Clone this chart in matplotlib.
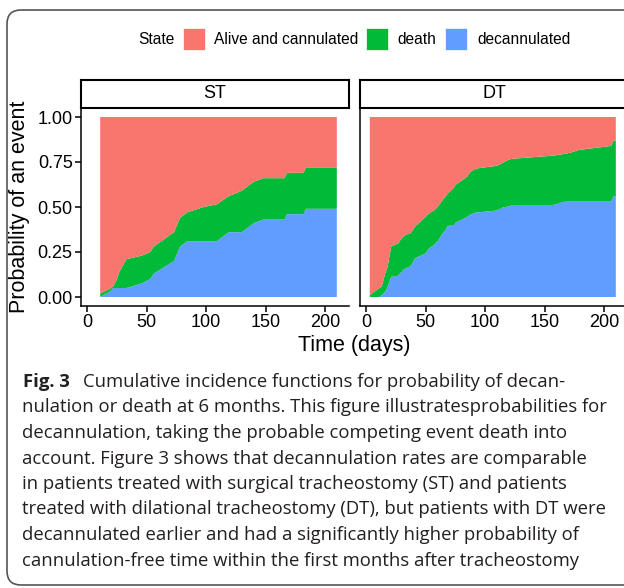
import matplotlib.pyplot as plt
from matplotlib.patches import Rectangle, FancyBboxPatch
from matplotlib.transforms import IdentityTransform
import numpy as np

# cumulative incidence, ST panel
st_tempo = [10.9, 19, 22, 25, 27, 33, 46, 53, 56, 73, 78, 84, 98, 109, 119, 130, 140, 148, 166, 168, 182, 184, 210]
st_decan = [0.0, 0.03, 0.05, 0.05, 0.05, 0.05, 0.076, 0.10, 0.13, 0.20, 0.28, 0.31, 0.31, 0.31, 0.36, 0.36, 0.41, 0.43, 0.43, 0.46, 0.46, 0.49, 0.49]
st_obito = [0.02, 0.015, 0.01, 0.05, 0.09, 0.16, 0.154, 0.15, 0.15, 0.16, 0.16, 0.16, 0.19, 0.205, 0.20, 0.23, 0.23, 0.23, 0.23, 0.23, 0.23, 0.23, 0.23]

# cumulative incidence, DT panel
dt_tempo = [3, 7, 11, 13, 16, 18, 21, 24, 27, 28, 30, 31, 33, 35, 37, 38, 41, 50, 52, 55, 57, 60, 65, 67, 68, 71,
            74, 75, 81, 85, 87, 88, 92, 94, 109, 112, 115, 119, 122, 123, 157, 167, 172, 179, 206, 208, 210]
dt_decan = [0, 0, 0, 0.01, 0.03, 0.057, 0.113, 0.113, 0.12, 0.128, 0.14, 0.15, 0.158, 0.165, 0.17, 0.178, 0.215,
            0.243, 0.265, 0.28, 0.289, 0.31, 0.36, 0.375, 0.391, 0.40, 0.40, 0.413, 0.431, 0.445, 0.456, 0.458,
            0.469, 0.47, 0.48, 0.487, 0.498, 0.502, 0.508, 0.511, 0.511, 0.53, 0.53, 0.53, 0.53, 0.561, 0.561]
dt_obito = [0.011, 0.03, 0.05, 0.047, 0.101, 0.112, 0.167, 0.177, 0.178, 0.182, 0.186, 0.185, 0.186, 0.185, 0.184,
            0.182, 0.176, 0.203, 0.195, 0.194, 0.191, 0.19, 0.185, 0.186, 0.179, 0.19, 0.21, 0.209, 0.219, 0.224,
            0.234, 0.238, 0.243, 0.245, 0.248, 0.248, 0.248, 0.258, 0.259, 0.257, 0.274, 0.265, 0.272, 0.287,
            0.309, 0.308, 0.308]

estados = ["Alive and cannulated", "death", "decannulated"]
cores = ["#F8766D", "#00BA38", "#619CFF"]
yticks = [0, 0.25, 0.5, 0.75, 1.0]
xticks = [0, 50, 100, 150, 200]

legenda = ["Fig. 3", "Cumulative incidence functions for probability of decan-",
           "nulation or death at 6 months. This figure illustratesprobabilities for",
           "decannulation, taking the probable competing event death into",
           "account. Figure 3 shows that decannulation rates are comparable",
           "in patients treated with surgical tracheostomy (ST) and patients",
           "treated with dilational tracheostomy (DT), but patients with DT were",
           "decannulated earlier and had a significantly higher probability of",
           "cannulation-free time within the first months after tracheostomy"]

W, H = 624, 588
plt.rcParams["font.family"] = ["Liberation Sans", "DejaVu Sans"]
fig = plt.figure(figsize=(W / 100, H / 100), dpi=100)


def caixa(x0, y0, x1, y1):
    # pixel box (top-left origin) -> figure fraction
    return [x0 / W, 1 - y1 / H, (x1 - x0) / W, (y1 - y0) / H]


# moldura arredondada
fig.patches.append(FancyBboxPatch((7, 3), 680, 575, boxstyle="round,pad=0,rounding_size=14",
                                  transform=IdentityTransform(), fill=False, edgecolor="#555555",
                                  linewidth=1.2))

paineis = [("ST", st_tempo, st_decan, st_obito, 81),
           ("DT", dt_tempo, dt_decan, dt_obito, 360)]
for nome, t, dec, obi, x0 in paineis:
    ax = fig.add_axes(caixa(x0, 108, x0 + 268, 306))
    dec = np.array(dec)
    obi = np.array(obi)
    vivo = 1 - dec - obi
    ax.stackplot(t, dec, obi, vivo, colors=[cores[2], cores[1], cores[0]], linewidth=0)
    ax.set_xlim(-5.25, 220.25)
    ax.set_ylim(-0.05, 1.05)
    ax.spines[["top", "right"]].set_visible(False)
    for s in ["left", "bottom"]:
        ax.spines[s].set_linewidth(1.1)
    ax.set_xticks(xticks)
    ax.set_xticklabels([str(v) for v in xticks], fontsize=13)
    ax.tick_params(length=4, width=1.1, pad=2)
    if nome == "ST":
        ax.set_yticks(yticks)
        ax.set_yticklabels([f"{v:.2f}" for v in yticks], fontsize=13)
    else:
        ax.set_yticks([])

    tira = fig.add_axes(caixa(x0, 80, x0 + 268, 108))
    tira.set_xticks([])
    tira.set_yticks([])
    for s in tira.spines.values():
        s.set_linewidth(1.5)
    tira.text(0.5, 0.5, nome, ha="center", va="center", fontsize=13, transform=tira.transAxes)

fig.text(20 / W, 1 - 207 / H, "Probability of an event", rotation=90, ha="center", va="center", fontsize=15.5)
fig.text(354 / W, 1 - 345 / H, "Time (days)", ha="center", va="center", fontsize=15.5)

# legenda do topo
fig.text(138 / W, 1 - 39 / H, "State", ha="left", va="center", fontsize=11.2)
for cor, rotulo, xp, xt in zip(cores, estados, [183, 366, 445], [214, 397, 477]):
    fig.patches.append(Rectangle((xp / W, 1 - 50 / H), 22 / W, 22 / H, transform=fig.transFigure,
                                 facecolor=cor, edgecolor="white", linewidth=0.5))
    fig.text(xt / W, 1 - 39 / H, rotulo, ha="left", va="center", fontsize=11.2)

# texto da figura
fig.text(23 / W, 1 - 382 / H, legenda[0], ha="left", va="center", fontsize=13.3,
         fontweight="bold", family="Open Sans", color="#231f20")
fig.text(83 / W, 1 - 382 / H, legenda[1], ha="left", va="center", fontsize=13.3,
         family="Open Sans", color="#231f20")
for i, linha in enumerate(legenda[2:]):
    fig.text(22 / W, 1 - (407.5 + 25.5 * i) / H, linha, ha="left", va="center", fontsize=13.3,
             family="Open Sans", color="#231f20")

fig.savefig("out.png", dpi=100)
plt.close()
